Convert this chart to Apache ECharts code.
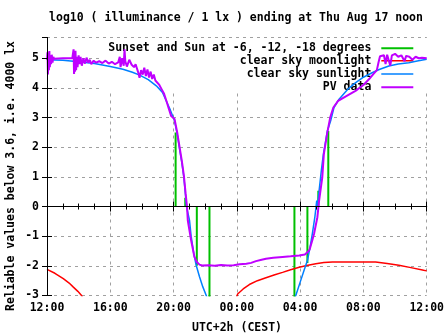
<!DOCTYPE html>
<html><head><meta charset="utf-8">
<script src="https://cdn.jsdelivr.net/npm/echarts@6/dist/echarts.min.js"></script>
<style>html,body{margin:0;padding:0;background:#fff}#c{width:447px;height:335px}</style>
</head><body><div id="c"></div>
<script>
// ---- texts ----
const titleText = 'log10 ( illuminance / 1 lx ) ending at Thu Aug 17 noon';
const xName = 'UTC+2h (CEST)';
const yName = 'Reliable values below 3.6, i.e. 4000 lx';
const seriesNames = ['Sunset and Sun at -6, -12, -18 degrees', 'clear sky moonlight', 'clear sky sunlight', 'PV data'];
// hours since Wed 12:00 (0..24); tick labels every 4 hours
const xTickLabels = ['12:00', '16:00', '20:00', '00:00', '04:00', '08:00', '12:00'];

// ---- sunset / twilight markers (hour, value at end of impulse from 0) ----
const sunHours = [8.13, 8.74, 9.47, 10.27, 15.64, 16.46, 17.15, 17.78];
const sunValues = [2.5, 0.3, -2.0, -3.5, -3.5, -1.9, 0.53, 2.55];

// ---- clear sky moonlight ----
const moonHours = [0, 0.5, 1.03, 1.4, 1.65, 1.95, 2.17, 2.5, 11.8, 12.05, 12.4, 12.79, 13.3, 13.84, 14.4, 14.89, 15.4, 15.94, 16.5, 16.99, 17.5, 18.04, 20.77, 21.5, 22.24, 23.0, 23.81, 24];
const moonValues = [-2.12, -2.25, -2.43, -2.58, -2.71, -2.86, -2.99, -3.3, -3.4, -2.95, -2.78, -2.63, -2.5, -2.4, -2.3, -2.22, -2.13, -2.05, -1.98, -1.93, -1.89, -1.87, -1.87, -1.92, -1.98, -2.06, -2.15, -2.17];

// ---- clear sky sunlight ----
const sunlightHours = [0, 1, 2, 3, 4, 4.8, 5.4, 5.86, 6.4, 6.91, 7.3, 7.54, 7.8, 8.06, 8.23, 8.38, 8.52, 8.65, 8.76, 8.82, 9.01, 9.11, 9.28, 9.43, 9.64, 9.85, 10.06, 10.3,
  15.45, 15.73, 16.04, 16.25, 16.46, 16.63, 16.77, 16.93, 17.05, 17.09, 17.2, 17.34, 17.47, 17.62, 17.72, 17.93, 18.14, 18.46, 19.0, 19.51, 20.0, 20.55, 21.0, 21.61, 22.2, 22.87, 23.4, 24];
const sunlightValues = [4.95, 4.93, 4.88, 4.82, 4.72, 4.63, 4.53, 4.43, 4.28, 4.07, 3.85, 3.56, 3.25, 2.89, 2.44, 1.94, 1.49, 0.99, 0.35, 0.0, -0.47, -1.0, -1.59, -1.98, -2.37, -2.71, -2.99, -3.4,
  -3.5, -2.99, -2.49, -2.15, -1.82, -1.37, -0.92, -0.36, 0.2, 0.0, 0.54, 1.21, 1.77, 2.22, 2.55, 2.89, 3.34, 3.62, 3.95, 4.18, 4.36, 4.51, 4.62, 4.74, 4.81, 4.85, 4.91, 4.97];

// ---- PV data ----
const pvHours = [0.00, 0.03, 0.06, 0.09, 0.12, 0.15, 0.18, 0.22, 0.26, 0.30, 0.35, 0.40, 0.45, 0.55, 1.0, 1.6, 1.65, 1.68, 1.71, 1.74, 1.77, 1.80, 1.84, 1.88, 1.93, 2.0, 2.05, 2.12, 2.2, 2.3, 2.4, 2.5, 2.6, 2.7, 2.8, 2.95, 3.1, 3.3, 3.5, 3.7, 3.9, 4.1, 4.3, 4.5, 4.6, 4.65, 4.75, 4.85, 4.9, 4.95, 5.05, 5.2, 5.35,
  5.5, 5.6, 5.75, 5.85, 5.95, 6.05, 6.15, 6.25, 6.35, 6.45, 6.55, 6.65, 6.75, 6.85, 6.95, 7.1, 7.25, 7.4, 7.55, 7.7, 7.85, 8.06, 8.23, 8.38, 8.52, 8.65, 8.76, 8.85, 8.9, 9.11, 9.32, 9.47, 9.64, 9.8,
  10.2, 10.6, 11.0, 11.4, 11.8, 12.17, 12.6, 12.9, 13.0, 13.21, 13.5, 13.84, 14.3, 14.89, 15.4, 15.94, 16.3, 16.46, 16.6, 16.77, 16.88, 17.09, 17.2, 17.4, 17.5, 17.7, 17.9, 18.1, 18.4, 18.5, 19.0, 19.5, 20.0, 20.35, 20.6, 20.85, 20.95, 21.05, 21.3, 21.4, 21.5, 21.7, 21.8, 22.0, 22.2, 22.4, 22.6, 22.7, 22.9, 23.1, 23.3, 23.5, 23.7, 24.0];
const pvValues = [4.95, 5.20, 4.45, 5.15, 4.60, 5.24, 4.70, 5.10, 4.80, 5.12, 4.85, 5.05, 4.98, 5.00, 5.00, 5.00, 5.02, 5.30, 4.47, 5.20, 4.55, 5.25, 4.60, 5.05, 4.70, 5.10, 4.80, 5.05, 4.75, 5.00, 4.82, 5.02, 4.85, 4.95, 4.80, 4.92, 4.85, 4.90, 4.84, 4.92, 4.82, 4.88, 4.80, 4.86, 5.05, 4.70, 5.00, 4.75, 5.30, 4.90, 4.72, 4.95, 4.78,
  4.70, 4.80, 4.55, 4.34, 4.60, 4.45, 4.68, 4.40, 4.62, 4.35, 4.55, 4.30, 4.45, 4.25, 4.30, 4.10, 3.95, 3.80, 3.56, 3.30, 3.05, 2.95, 2.50, 2.00, 1.55, 1.05, 0.45, 0.00, -0.47, -1.14, -1.70, -1.87, -1.96, -1.99,
  -1.98, -2.00, -1.97, -1.99, -1.98, -1.95, -1.93, -1.90, -1.84, -1.84, -1.80, -1.76, -1.73, -1.70, -1.68, -1.65, -1.62, -1.54, -1.45, -1.14, -0.92, -0.36, 0.20, 0.98, 1.77, 2.44, 3.00, 3.34, 3.56, 3.62, 3.75, 3.90, 4.10, 4.29, 4.45, 4.60, 4.85, 5.07, 5.10, 4.80, 5.12, 4.75, 5.10, 5.15, 5.05, 5.10, 4.90, 5.08, 5.05, 4.95, 5.05, 5.00, 5.02, 5.00];

// ---- build ----
const FONT = 'DejaVu Sans Mono';
const txt = { fontFamily: FONT, fontSize: 11.5, fontWeight: 'bold', color: '#000' };
const zip = (a, b) => a.map((v, i) => [v, b[i]]);
const sunData = [];
sunHours.forEach((h, i) => { sunData.push([h, 0], [h, sunValues[i]], [h, '-']); });

const chart = echarts.init(document.getElementById('c'), null, { renderer: 'canvas' });
const axisLineStyle = { color: '#000', width: 1 };
const grid = { left: 47, right: 20, top: 37.5, bottom: 39.5 };
const plotRight = 447 - grid.right;

const xBase = {
  type: 'value', min: 0, max: 24, interval: 4,
  axisLine: { show: true, lineStyle: axisLineStyle },
  axisTick: { show: true, inside: true, length: 5, lineStyle: axisLineStyle },
  minorTick: { show: true, splitNumber: 4, length: 3, lineStyle: axisLineStyle }
};
const yBase = {
  type: 'value', min: -3, max: 5.7, interval: 1,
  axisLine: { show: true, lineStyle: axisLineStyle },
  axisTick: { show: true, inside: true, length: 5, lineStyle: axisLineStyle }
};

const colors = ['#00c000', '#ff0000', '#0080ff', '#c000ff'];
const widths = [2, 1.5, 1.5, 2];
const datas = [sunData, zip(moonHours, moonValues), zip(sunlightHours, sunlightValues), zip(pvHours, pvValues)];
const legendCenters = [48.3, 60.7, 74, 87.3];

chart.setOption({
  animation: false,
  backgroundColor: '#fff',
  grid: grid,
  xAxis: [
    Object.assign({}, xBase, {
      position: 'bottom',
      splitLine: { show: true, lineStyle: { color: '#a0a0a0', width: 1, type: [3, 4] } },
      axisLabel: Object.assign({}, txt, { margin: 7, formatter: v => xTickLabels[Math.round(v / 4)] })
    }),
    Object.assign({}, xBase, {
      position: 'top', z: 4,
      splitLine: { show: false }, axisLabel: { show: false }
    })
  ],
  yAxis: [
    Object.assign({}, yBase, {
      position: 'left',
      splitLine: { show: true, lineStyle: { color: '#a0a0a0', width: 1, type: [3, 4] } },
      axisLabel: Object.assign({}, txt, { margin: 8, showMaxLabel: false,
        formatter: v => (Math.abs(v - Math.round(v)) < 1e-6 ? String(Math.round(v)) : '') })
    }),
    Object.assign({}, yBase, {
      position: 'right', z: 4,
      splitLine: { show: false }, axisLabel: { show: false }
    })
  ],
  legend: seriesNames.map((n, i) => ({
    data: [{ name: n, icon: 'rect' }], right: 447 - 413.3, top: legendCenters[i] - 7,
    orient: 'horizontal', align: 'right', padding: 0, z: 2,
    itemWidth: 32, itemHeight: widths[i], selectedMode: false,
    itemStyle: { color: colors[i], borderWidth: 0 },
    textStyle: Object.assign({}, txt, { lineHeight: 14, padding: [0, 5, 0, 0] })
  })),
  graphic: [
    { type: 'rect', z: 1, silent: true, shape: { x: 100, y: 38, width: plotRight - 100, height: 55 }, style: { fill: '#fff' } },
    { type: 'text', z: 5, style: Object.assign({ text: titleText, x: 236, y: 18, align: 'center', verticalAlign: 'middle', font: 'bold 11.5px "' + FONT + '"', fill: '#000' }) },
    { type: 'text', z: 5, style: { text: xName, x: 237, y: 328, align: 'center', verticalAlign: 'middle', font: 'bold 11.5px "' + FONT + '"', fill: '#000' } },
    { type: 'text', z: 5, x: 11.5, y: 176, rotation: Math.PI / 2, style: { text: yName, x: 0, y: 0, align: 'center', verticalAlign: 'middle', font: 'bold 11.5px "' + FONT + '"', fill: '#000' } }
  ],
  series: seriesNames.map((n, i) => ({
    name: n, type: 'line', xAxisIndex: 0, yAxisIndex: 0, z: 3,
    data: datas[i], symbol: 'none', showSymbol: false, connectNulls: false, clip: true,
    lineStyle: { color: colors[i], width: widths[i] }, itemStyle: { color: colors[i] }
  }))
});
</script></body></html>
